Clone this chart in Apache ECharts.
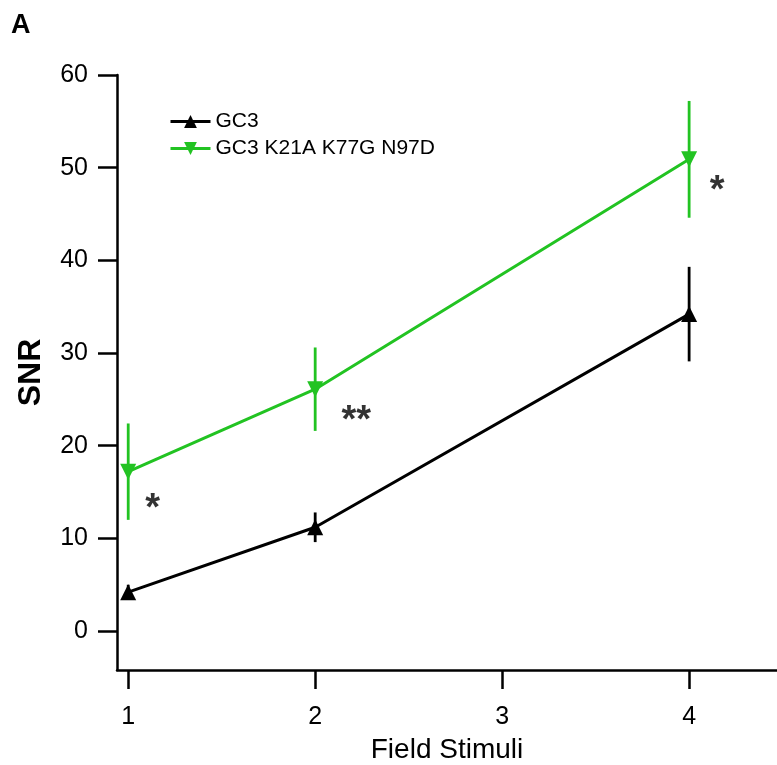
<!DOCTYPE html>
<html>
<head>
<meta charset="utf-8">
<script src="https://cdn.jsdelivr.net/npm/echarts@6/dist/echarts.min.js"></script>
<style>
  html, body { margin: 0; padding: 0; background: #fff; }
  #chart { width: 777px; height: 765px; }
</style>
</head>
<body>
<div id="chart"></div>
<script>
// Number of field stimuli
const stimuli = [1, 2, 4];
// Mean SNR and SEM for each sensor
const gc3Mean = [4.2, 11.2, 34.2];
const gc3Err = [0.8, 1.6, 5.1];
const mutMean = [17.2, 26.1, 50.9];
const mutErr = [5.2, 4.5, 6.3];
// Significance marks next to the mutant points
const sigX = [1.13, 2.22, 4.15];
const sigY = [14.2, 23.7, 48.5];
const sigText = ['*', '**', '*'];
const yTicks = [0, 10, 20, 30, 40, 50, 60];
const xTicks = [1, 2, 3, 4];

const black = '#000000';
const green = '#22c322';
const font = 'Arial, "Liberation Sans", Helvetica, sans-serif';

function pairs(xs, ys) { return xs.map((x, i) => [x, ys[i]]); }
function errData(xs, m, e) { return xs.map((x, i) => [x, m[i] - e[i], m[i] + e[i]]); }

function errSeries(data, color) {
  return {
    type: 'custom',
    data: data,
    z: 1,
    silent: true,
    renderItem: function (params, api) {
      const lo = api.coord([api.value(0), api.value(1)]);
      const hi = api.coord([api.value(0), api.value(2)]);
      return {
        type: 'line',
        shape: { x1: lo[0], y1: lo[1], x2: hi[0], y2: hi[1] },
        style: { stroke: color, lineWidth: 2.8 }
      };
    }
  };
}

const chart = echarts.init(document.getElementById('chart'), null, { renderer: 'canvas' });
chart.setOption({
  animation: false,
  backgroundColor: '#fff',
  textStyle: { fontFamily: font },
  graphic: [{
    type: 'text', left: 11, top: 12,
    style: { text: 'A', font: 'bold 27px ' + font, fill: '#000' }
  }],
  grid: { left: 117, right: 0, top: 75, bottom: 95, containLabel: false, outerBoundsMode: 'none' },
  legend: {
    orient: 'vertical',
    left: 164, top: 106,
    itemWidth: 40, itemHeight: 16, itemGap: 6,
    lineStyle: { width: 3 },
    textStyle: { fontSize: 21, color: '#000', fontFamily: font, lineHeight: 21 },
    data: ['GC3', 'GC3 K21A K77G N97D']
  },
  xAxis: {
    type: 'value', min: 0.94, max: 4.47,
    name: 'Field Stimuli', nameLocation: 'middle', nameGap: 66,
    nameTextStyle: { fontSize: 28, color: '#000', fontFamily: font },
    axisLine: { show: true, onZero: false, lineStyle: { color: '#000', width: 2.5 } },
    axisTick: { show: true, inside: false, length: 19, lineStyle: { color: '#000', width: 2.5 }, customValues: xTicks },
    axisLabel: { fontSize: 25, color: '#000', margin: 35, fontFamily: font, customValues: xTicks },
    splitLine: { show: false }
  },
  yAxis: {
    type: 'value', min: -4.2, max: 60,
    name: 'SNR', nameLocation: 'middle', nameGap: 70,
    nameTextStyle: { fontSize: 32, fontWeight: 'bold', color: '#000', fontFamily: font },
    axisLine: { show: true, onZero: false, lineStyle: { color: '#000', width: 2.5 } },
    axisTick: { show: true, inside: false, length: 19, lineStyle: { color: '#000', width: 2.5 }, customValues: yTicks },
    axisLabel: { fontSize: 25, color: '#000', margin: 29, fontFamily: font, customValues: yTicks },
    splitLine: { show: false }
  },
  series: [
    errSeries(errData(stimuli, gc3Mean, gc3Err), black),
    errSeries(errData(stimuli, mutMean, mutErr), green),
    {
      name: 'GC3', type: 'line', data: pairs(stimuli, gc3Mean),
      symbol: 'triangle', symbolSize: 16, showAllSymbol: true,
      lineStyle: { color: black, width: 3 },
      itemStyle: { color: black },
      z: 3
    },
    {
      name: 'GC3 K21A K77G N97D', type: 'line', data: pairs(stimuli, mutMean),
      symbol: 'triangle', symbolRotate: 180, symbolSize: 16, showAllSymbol: true,
      lineStyle: { color: green, width: 3 },
      itemStyle: { color: green },
      z: 3
    },
    {
      type: 'scatter', data: pairs(sigX, sigY), symbol: 'circle', symbolSize: 1,
      itemStyle: { color: 'rgba(0,0,0,0)' }, silent: true,
      label: {
        show: true, position: 'inside', offset: [0, 10],
        formatter: p => sigText[p.dataIndex],
        fontSize: 38, fontWeight: 'bold', color: '#000', fontFamily: font,
        textBorderWidth: 0
      },
      z: 4
    }
  ]
});
</script>
</body>
</html>
